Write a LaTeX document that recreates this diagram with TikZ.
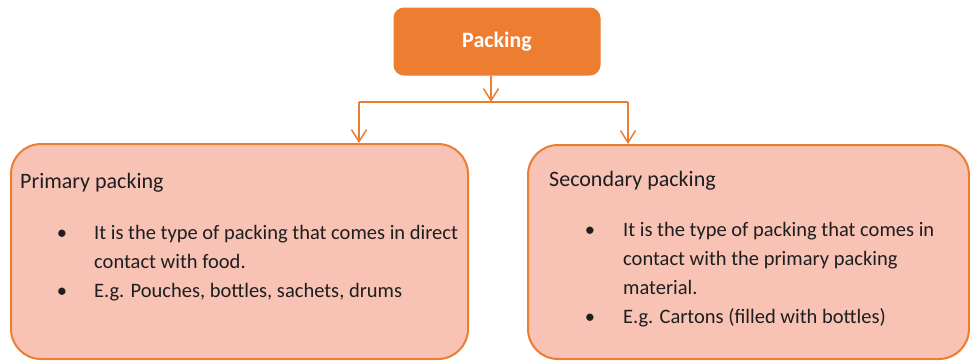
\documentclass[tikz,border=0pt]{standalone}
\usepackage{fontspec}
\setmainfont{Carlito}
\usetikzlibrary{arrows.meta}
\definecolor{accent}{HTML}{ED7D31}
\definecolor{pinkfill}{HTML}{F8C2B5}
\definecolor{ink}{HTML}{1E1E1E}
\begin{document}
\begin{tikzpicture}[x=1pt,y=-1pt,
  headbox/.style={draw=accent, fill=accent, line width=1pt, rounded corners=10pt,
    minimum width=206pt, minimum height=67pt, inner sep=0pt, text=white,
    font=\fontsize{22}{26}\selectfont\bfseries},
  groupbox/.style={draw=accent, fill=pinkfill, line width=2pt, rounded corners=30pt,
    inner sep=0pt, anchor=north west},
  titletext/.style={anchor=base west, inner sep=0pt, text=ink,
    font=\fontsize{22}{26}\selectfont},
  bodytext/.style={anchor=base west, inner sep=0pt, text=ink,
    font=\fontsize{20.5}{24}\selectfont},
  dot/.style={anchor=base, inner sep=0pt, text=ink,
    font=\fontsize{20.5}{24}\selectfont},
  link/.style={draw=accent, line width=1.5pt},
  arr/.style={link, -{Straight Barb[length=12pt,width=15pt,line width=1.5pt]}}
]
\useasboundingbox (0,0) rectangle (970,360);

% root node
\node[headbox] (root) at (497,41.5) {Packing};

% the two category boxes
\node[groupbox, minimum width=457pt, minimum height=215pt] (primary) at (10,143) {};
\node[groupbox, minimum width=441pt, minimum height=214pt] (secondary) at (527,144) {};

% connectors: root down to a bar, then down to each box
\coordinate (split) at (491,102);
\coordinate (splitL) at (359,102);
\coordinate (splitR) at (628,102);
\draw[arr] (root.south -| split) -- (split);
\draw[link] (splitL) -- (splitR);
\draw[arr] (splitL) -- (primary.north -| splitL);
\draw[arr] (splitR) -- (secondary.north -| splitR);

% primary packing text
\node[titletext] (ptitle) at (20,188) {Primary packing};
\node[dot] (pb1) at (62,239) {•};
\node[bodytext] (p1a) at (94,239) {It is the type of packing that comes in direct};
\node[bodytext] (p1b) at (94,268) {contact with food.};
\node[dot] (pb2) at (62,297) {•};
\node[bodytext] (p2a) at (94,297) {E.g. Pouches, bottles, sachets, drums};

% secondary packing text
\node[titletext] (stitle) at (549,186) {Secondary packing};
\node[dot] (sb1) at (590,236) {•};
\node[bodytext] (s1a) at (623,236) {It is the type of packing that comes in};
\node[bodytext] (s1b) at (623,265) {contact with the primary packing};
\node[bodytext] (s1c) at (623,294) {material.};
\node[dot] (sb2) at (590,323.5) {•};
\node[bodytext] (s2a) at (623,323.5) {E.g. Cartons (filled with bottles)};
\end{tikzpicture}
\end{document}
